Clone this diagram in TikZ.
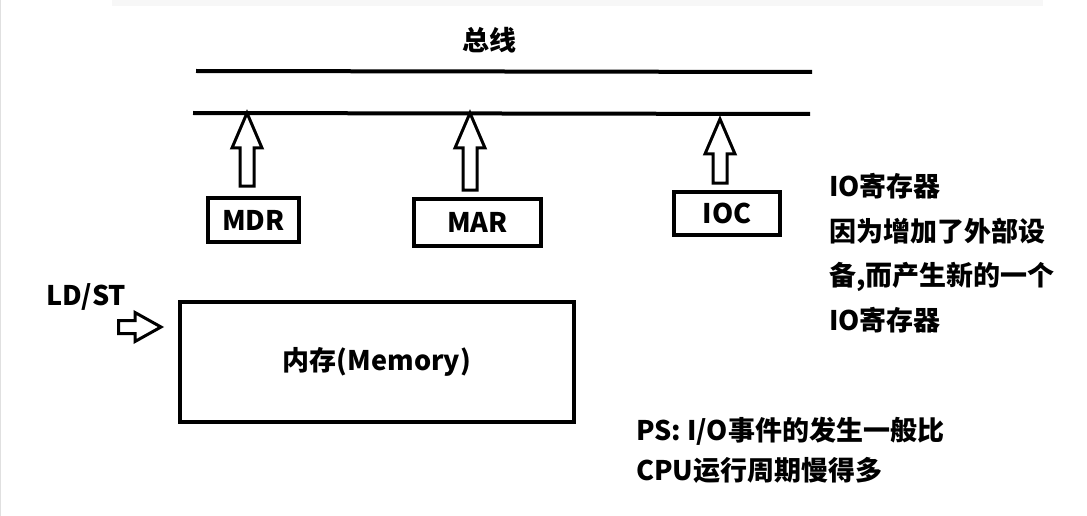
\documentclass[tikz,border=0pt]{standalone}
\usepackage{fontspec}
\setmainfont{Noto Sans CJK SC}
\usetikzlibrary{calc}

\tikzset{
  bus/.style={line width=4pt},
  reg/.style={draw, line width=4pt, inner sep=0pt, font=\fontsize{27}{30}\selectfont\bfseries},
  hollow/.style={line width=3pt, line join=miter},
  txt/.style={inner sep=0pt, font=\fontsize{27}{30}\selectfont\bfseries},
}
% hollow block arrow pointing up: #1 foot, #2 tip
\newcommand{\hollowup}[2]{%
  \draw[hollow] ($(#1)+(-7,0)$) -- ($(#2)+(-7,35)$) -- ($(#2)+(-15,35)$) -- (#2)
    -- ($(#2)+(15,35)$) -- ($(#2)+(7,35)$) -- ($(#1)+(7,0)$) -- cycle;}
% hollow block arrow pointing right: #1 foot, #2 tip
\newcommand{\hollowright}[2]{%
  \draw[hollow] ($(#1)+(0,-6.5)$) -- ($(#2)+(-26,-6.5)$) -- ($(#2)+(-26,-14.5)$) -- (#2)
    -- ($(#2)+(-26,14.5)$) -- ($(#2)+(-26,6.5)$) -- ($(#1)+(0,6.5)$) -- cycle;}

\begin{document}
\begin{tikzpicture}[x=1pt,y=-1pt]
\useasboundingbox (0,0) rectangle (1087,516);
% screenshot edges
\fill[black!3] (112,0) rectangle (1043,6);
\draw[black!12] (0.5,0) -- (0.5,516);

% Text Node
\node[txt] (bustitle) at (489,40) {总线};
%Straight Lines: bus
\coordinate (busAl) at (196,71);
\coordinate (busAr) at (812,72);
\coordinate (busBl) at (193,113);
\coordinate (busBr) at (810,114);
\draw[bus] (busAl) -- (busAr);
\draw[bus] (busBl) -- (busBr);

%Shape: registers
\node[reg, minimum width=91pt, minimum height=44pt] (mdr) at (253.5,220) {MDR};
\node[reg, minimum width=127pt, minimum height=47pt] (mar) at (477.5,222.5) {MAR};
\node[reg, minimum width=106pt, minimum height=43pt] (ioc) at (727,213.5) {IOC};
\node[reg, minimum width=394pt, minimum height=120pt] (mem) at (377,362) {内存(Memory)};

%Shape: arrows to the bus
\coordinate (mdrfoot) at ($(mdr.north)+(-6.5,-10)$);
\coordinate (marfoot) at ($(mar.north)+(-7.5,-7)$);
\coordinate (iocfoot) at ($(ioc.north)+(-7,-7)$);
\hollowup{mdrfoot}{mdrfoot |- busBl}
\hollowup{marfoot}{marfoot |- busBl}
\hollowup{iocfoot}{$(iocfoot |- busBl)+(0,6)$}

% Text Node
\node[txt] (ldst) at (86,297) {LD/ST};
\coordinate (ldfoot) at (118.5,327);
\coordinate (ldtip) at ($(mem.west)+(-17,-35)$);
\hollowright{ldfoot}{ldtip}

% Text Node
\node[txt, anchor=north west, align=left, font=\fontsize{27}{44.7}\selectfont\bfseries] (ionote) at (829,173)
  {IO寄存器\\因为增加了外部设\\备,而产生新的一个\\IO寄存器};
% Text Node
\node[txt, anchor=north west, align=left, font=\fontsize{27}{40}\selectfont\bfseries] (psnote) at (636,417)
  {PS: I/O事件的发生一般比\\CPU运行周期慢得多};

\end{tikzpicture}
\end{document}
